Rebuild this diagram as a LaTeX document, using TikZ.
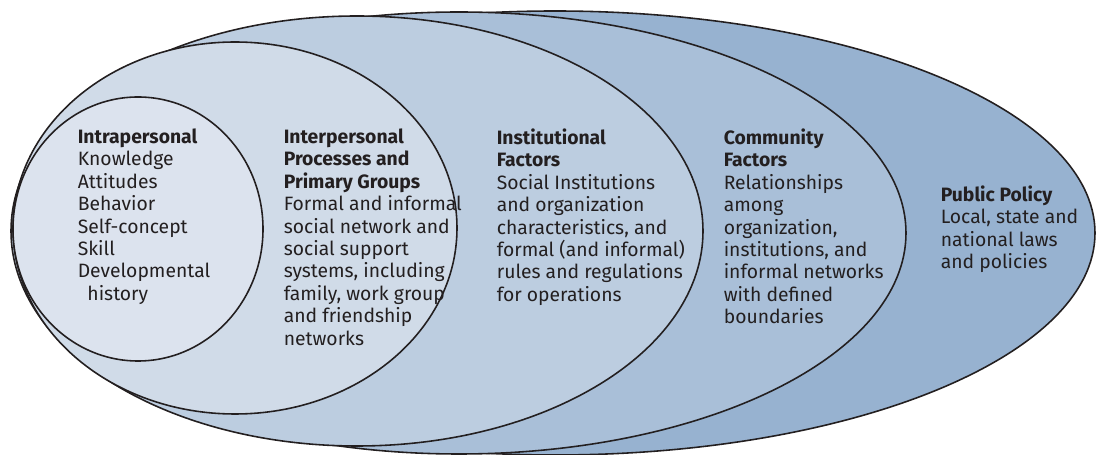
\documentclass[tikz,border=0pt]{standalone}
\usepackage{fontspec}
\setmainfont{Fira Sans}
\definecolor{ink}{RGB}{35,31,32}
\definecolor{policy}{RGB}{151,178,208}
\definecolor{community}{RGB}{169,191,216}
\definecolor{institution}{RGB}{188,205,224}
\definecolor{interper}{RGB}{208,219,232}
\definecolor{intraper}{RGB}{220,227,238}
\begin{document}
\begin{tikzpicture}[x=0.02cm,y=-0.02cm,line width=0.9pt,
    layer/.style={draw=ink,fill=#1},
    txt/.style={anchor=north west,inner sep=0pt,align=left,text=ink,font=\fontsize{11}{12.75}\selectfont}]
        \useasboundingbox(0,0)rectangle(1096,455);
        \clip(0,0)rectangle(1096,455);
        \draw[layer=policy](555,233)ellipse[x radius=540,y radius=222];
        \draw[layer=community](459,233)ellipse[x radius=447,y radius=221];
        \draw[layer=institution](357,231)ellipse[x radius=346,y radius=215];
        \draw[layer=interper](235,228)ellipse[x radius=222,y radius=186];
        \draw[layer=intraper](138,229)ellipse[x radius=125,y radius=132];
        \node[txt](intra)at(77,128){\textbf{Intrapersonal}\\Knowledge\\Attitudes\\Behavior\\Self-concept\\Skill\\Developmental\\\hspace{0.5em}history};
        \node[txt](inter)at(283,128){\textbf{Interpersonal}\\\textbf{Processes and}\\\textbf{Primary Groups}\\Formal and informal\\social network and\\social support\\systems, including\\family, work group\\and friendship\\networks};
        \node[txt](inst)at(496,128){\textbf{Institutional}\\\textbf{Factors}\\Social Institutions\\and organization\\characteristics, and\\formal (and informal)\\rules and regulations\\for operations};
        \node[txt](comm)at(723,128){\textbf{Community}\\\textbf{Factors}\\Relationships\\among\\organization,\\institutions, and\\informal networks\\with defined\\boundaries};
        \node[txt](policy)at(940,185){\textbf{Public Policy}\\Local, state and\\national laws\\and policies};
    \end{tikzpicture}
\end{document}
